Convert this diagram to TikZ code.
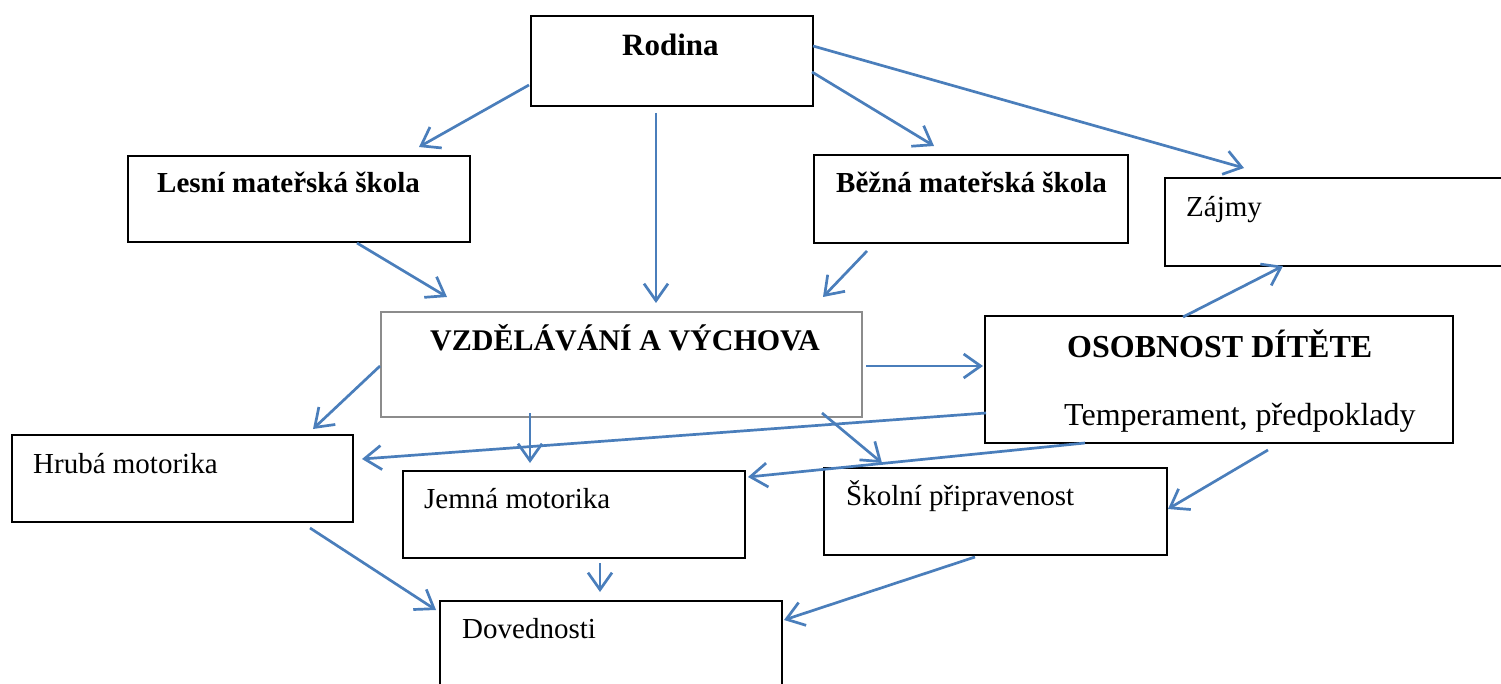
\documentclass[tikz,border=0pt]{standalone}
\usepackage{fontspec}
\setmainfont{Liberation Serif}
\usetikzlibrary{arrows.meta}
\definecolor{arrblue}{HTML}{4A7EBB}
\definecolor{boxgray}{HTML}{8C8C8C}
\tikzset{
  box/.style={draw=black, line width=2.4pt, fill=none},
  graybox/.style={draw=boxgray, line width=2.4pt, fill=none},
  txt/.style={anchor=base west, inner sep=0pt, font=\fontsize{29pt}{34pt}\selectfont},
  btxt/.style={anchor=base west, inner sep=0pt, font=\fontsize{29pt}{34pt}\selectfont\bfseries},
  arr/.style={draw=arrblue, line width=2.7pt, -{Straight Barb[length=17pt,width=24pt,line width=2.7pt]}},
}
\begin{document}
\begin{tikzpicture}[x=1pt,y=-1pt]
\useasboundingbox (0,0) rectangle (1501,684);
% boxes
\draw[box] (531,16) rectangle (813,106) node[coordinate] (rodina) {};
\draw[box] (128,156) rectangle (470,242) node[coordinate] (lesni) {};
\draw[box] (814,155) rectangle (1128,243) node[coordinate] (bezna) {};
\draw[box] (1165,178) rectangle (1515,266) node[coordinate] (zajmy) {};
\draw[graybox] (381,312) rectangle (862,417) node[coordinate] (vzd) {};
\draw[box] (985,316) rectangle (1453,443) node[coordinate] (osob) {};
\draw[box] (12,435) rectangle (353,522) node[coordinate] (hruba) {};
\draw[box] (403,471) rectangle (745,558) node[coordinate] (jemna) {};
\draw[box] (824,468) rectangle (1167,555) node[coordinate] (skolni) {};
\draw[box] (440,601) rectangle (782,720) node[coordinate] (doved) {};
% texts
\node[btxt, font=\fontsize{31pt}{36pt}\selectfont\bfseries] (tRodina) at (622,56) {Rodina};
\node[btxt] (tLesni) at (157,193) {Lesní mateřská škola};
\node[btxt] (tBezna) at (836,193) {Běžná mateřská škola};
\node[txt] (tZajmy) at (1186,217) {Zájmy};
\node[btxt, font=\fontsize{30pt}{35pt}\selectfont\bfseries] (tVzd) at (430,350) {VZDĚLÁVÁNÍ A VÝCHOVA};
\node[btxt, font=\fontsize{32pt}{37pt}\selectfont\bfseries] (tOsob) at (1067,357) {OSOBNOST DÍTĚTE};
\node[txt, font=\fontsize{32pt}{37pt}\selectfont] (tTemp) at (1064,425) {Temperament, předpoklady};
\node[txt] (tHruba) at (33,473) {Hrubá motorika};
\node[txt] (tJemna) at (424,508) {Jemná motorika};
\node[txt] (tSkolni) at (846,505) {Školní připravenost};
\node[txt] (tDoved) at (462,638) {Dovednosti};
% arrow end points
\coordinate (s1) at (529,85);   \coordinate (e1) at (419,147);
\coordinate (s2) at (656,113);  \coordinate (e2) at (656,303);
\coordinate (s3) at (812,72);   \coordinate (e3) at (934,146);
\coordinate (s4) at (813,46);   \coordinate (e4) at (1244,168);
\coordinate (s5) at (357,243);  \coordinate (e5) at (447,297);
\coordinate (s6) at (867,251);  \coordinate (e6) at (823,297);
\coordinate (s7) at (1183,317); \coordinate (e7) at (1283,266);
\coordinate (s8) at (866,366);  \coordinate (e8) at (983,366);
\coordinate (s9) at (380,366);  \coordinate (e9) at (313,429);
\coordinate (s10) at (530,413); \coordinate (e10) at (530,463);
\coordinate (s11) at (822,413); \coordinate (e11) at (882,463);
\coordinate (s12) at (986,413); \coordinate (e12) at (362,459);
\coordinate (s13) at (1085,443);\coordinate (e13) at (748,477);
\coordinate (s14) at (1268,450);\coordinate (e14) at (1168,509);
\coordinate (s15) at (310,528); \coordinate (e15) at (436,610);
\coordinate (s16) at (600,563); \coordinate (e16) at (600,592);
\coordinate (s17) at (975,557); \coordinate (e17) at (784,620);
\foreach \i in {1,...,17} { \draw[arr] (s\i) -- (e\i); }
\end{tikzpicture}
\end{document}
